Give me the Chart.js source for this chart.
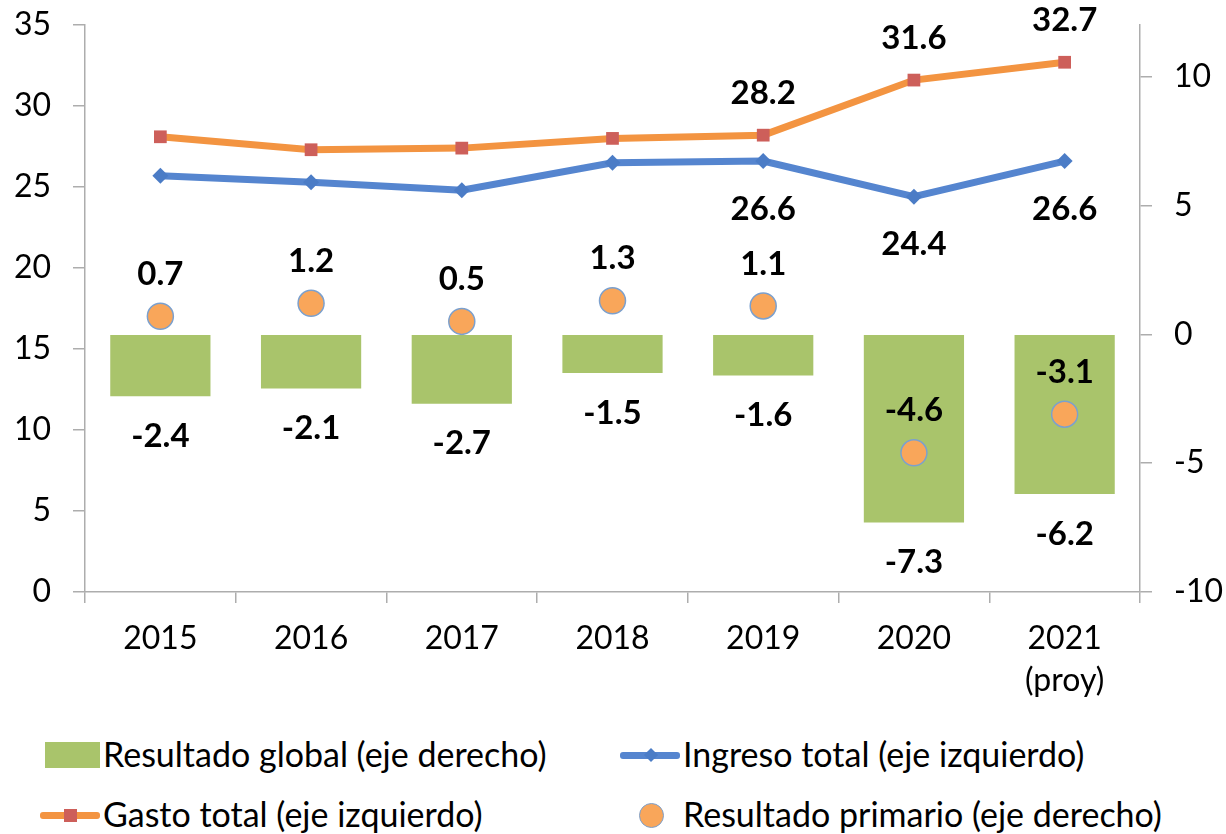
<!DOCTYPE html>
<html>
<head>
<meta charset="utf-8">
<script src="https://cdn.jsdelivr.net/npm/chart.js@4/dist/chart.umd.min.js"></script>
<style>
  body { margin: 0; background: #fff; font-family: Lato, sans-serif; }
  #contenedor { position: relative; width: 1226px; height: 720px; }
  .leyenda { position: absolute; font-size: 34px; color: #000; line-height: 40px; white-space: nowrap; }
  .marca { position: absolute; }
</style>
</head>
<body>
<div id="contenedor"><canvas id="grafico"></canvas></div>

<!-- leyenda (2 columnas como en el original) -->
<div class="marca" style="left:45px; top:742px; width:55px; height:26px; background:#A9C46B;"></div>
<div class="leyenda" style="left:103px; top:734px;">Resultado global (eje derecho)</div>

<div class="marca" style="left:620px; top:752px; width:60px; height:7px; border-radius:3px; background:#5585CF;"></div>
<div class="marca" style="left:646px; top:750px; width:10px; height:10px; background:#4B7CC6; transform:rotate(45deg);"></div>
<div class="leyenda" style="left:683px; top:734px;">Ingreso total (eje izquierdo)</div>

<div class="marca" style="left:40px; top:812px; width:60px; height:7px; border-radius:3px; background:#F39441;"></div>
<div class="marca" style="left:64px; top:809px; width:13px; height:13px; background:#CD5F5A;"></div>
<div class="leyenda" style="left:103px; top:794px;">Gasto total (eje izquierdo)</div>

<div class="marca" style="left:639px; top:803px; width:23px; height:23px; border-radius:50%; background:#F9A65A; border:1px solid #7BA0CE;"></div>
<div class="leyenda" style="left:683px; top:794px;">Resultado primario (eje derecho)</div>

<script>
// datos (% del PIB)
const anios = ['2015', '2016', '2017', '2018', '2019', '2020', ['2021', '(proy)']];
const resultadoGlobal = [-2.4, -2.1, -2.7, -1.5, -1.6, -7.3, -6.2];
const ingresoTotal = [25.7, 25.3, 24.8, 26.5, 26.6, 24.4, 26.6];
const gastoTotal = [28.1, 27.3, 27.4, 28.0, 28.2, 31.6, 32.7];
const resultadoPrimario = [0.7, 1.2, 0.5, 1.3, 1.1, -4.6, -3.1];

// en las lineas solo se rotulan los ultimos tres anios
const rotularLinea = [false, false, false, false, true, true, true];
const ticksDerecha = [-10, -5, 0, 5, 10];

const colorEje = '#ADADAD';

// rotulos de datos dibujados a mano (no hay plugin de datalabels)
const rotulos = {
  id: 'rotulos',
  afterDatasetsDraw(chart) {
    const ctx = chart.ctx;
    ctx.save();
    ctx.font = 'bold 33px Lato';
    ctx.fillStyle = '#000';
    ctx.textAlign = 'center';
    ctx.textBaseline = 'middle';

    chart.data.datasets.forEach((ds, i) => {
      const meta = chart.getDatasetMeta(i);
      meta.data.forEach((el, j) => {
        const valor = ds.data[j];
        let y;
        if (ds.rotulo === 'barra') {
          y = Math.max(el.y, el.base) + 40; // debajo del extremo de la barra
        } else if (ds.rotulo === 'arriba') {
          if (ds.soloAlgunos && !rotularLinea[j]) return;
          y = el.y - 42;
        } else if (ds.rotulo === 'abajo') {
          if (ds.soloAlgunos && !rotularLinea[j]) return;
          y = el.y + 48;
        } else {
          return;
        }
        ctx.fillText(valor.toFixed(1), el.x, y);
      });
    });
    ctx.restore();
  }
};

// ancho fijo de los ejes verticales y sin relleno extra arriba/abajo
function ajustarEje(ancho) {
  return function (scale) {
    scale.width = ancho;
    scale.paddingTop = 0;
    scale.paddingBottom = 0;
  };
}

var ctx = document.getElementById('grafico').getContext('2d');
var grafico = new Chart(ctx, {
  type: 'bar',
  data: {
    labels: anios,
    datasets: [
      {
        type: 'line',
        label: 'Resultado primario (eje derecho)',
        data: resultadoPrimario,
        yAxisID: 'y1',
        showLine: false,
        pointStyle: 'circle',
        pointRadius: 13,
        pointBackgroundColor: '#F9A65A',
        pointBorderColor: '#7BA0CE',
        pointBorderWidth: 1.5,
        rotulo: 'arriba',
        order: 1
      },
      {
        type: 'line',
        label: 'Gasto total (eje izquierdo)',
        data: gastoTotal,
        yAxisID: 'y',
        borderColor: '#F39441',
        borderWidth: 7,
        tension: 0,
        pointStyle: 'rect',
        pointRadius: 9,
        pointBackgroundColor: '#CD5F5A',
        pointBorderWidth: 0,
        rotulo: 'arriba',
        soloAlgunos: true,
        order: 2
      },
      {
        type: 'line',
        label: 'Ingreso total (eje izquierdo)',
        data: ingresoTotal,
        yAxisID: 'y',
        borderColor: '#5585CF',
        borderWidth: 7,
        tension: 0,
        pointStyle: 'rectRot',
        pointRadius: 8,
        pointBackgroundColor: '#4B7CC6',
        pointBorderWidth: 0,
        rotulo: 'abajo',
        soloAlgunos: true,
        order: 3
      },
      {
        label: 'Resultado global (eje derecho)',
        data: resultadoGlobal,
        yAxisID: 'y1',
        backgroundColor: '#A9C46B',
        categoryPercentage: 1,
        barPercentage: 0.665,
        rotulo: 'barra',
        order: 4
      }
    ]
  },
  options: {
    responsive: true,
    maintainAspectRatio: false,
    animation: false,
    layout: { padding: { top: 25, left: 0, right: 0, bottom: 0 } },
    plugins: {
      legend: { display: false },
      tooltip: { enabled: false }
    },
    scales: {
      x: {
        offset: true,
        grid: { offset: true, drawOnChartArea: false, tickLength: 11, color: colorEje, lineWidth: 1.5 },
        border: { color: colorEje, width: 1.5 },
        ticks: { color: '#000', font: { family: 'Lato', size: 32, lineHeight: 1.3 }, padding: 15, maxRotation: 0 },
        afterFit(scale) {
          scale.height = 128;
          scale.paddingLeft = 0;
          scale.paddingRight = 0;
        }
      },
      y: {
        position: 'left',
        min: 0,
        max: 35,
        ticks: { stepSize: 5, color: '#000', font: { family: 'Lato', size: 32 }, padding: 22 },
        grid: { drawOnChartArea: false, tickLength: 12, color: colorEje, lineWidth: 1.5 },
        border: { color: colorEje, width: 1.5 },
        afterFit: ajustarEje(85)
      },
      y1: {
        position: 'right',
        min: -10,
        max: 12,
        afterBuildTicks(scale) {
          scale.ticks = ticksDerecha.map(v => ({ value: v }));
        },
        ticks: { color: '#000', font: { family: 'Lato', size: 32 }, padding: 22 },
        grid: { drawOnChartArea: false, tickLength: 12, color: colorEje, lineWidth: 1.5 },
        border: { color: colorEje, width: 1.5 },
        afterFit: ajustarEje(86)
      }
    }
  },
  plugins: [rotulos]
});
</script>
</body>
</html>
